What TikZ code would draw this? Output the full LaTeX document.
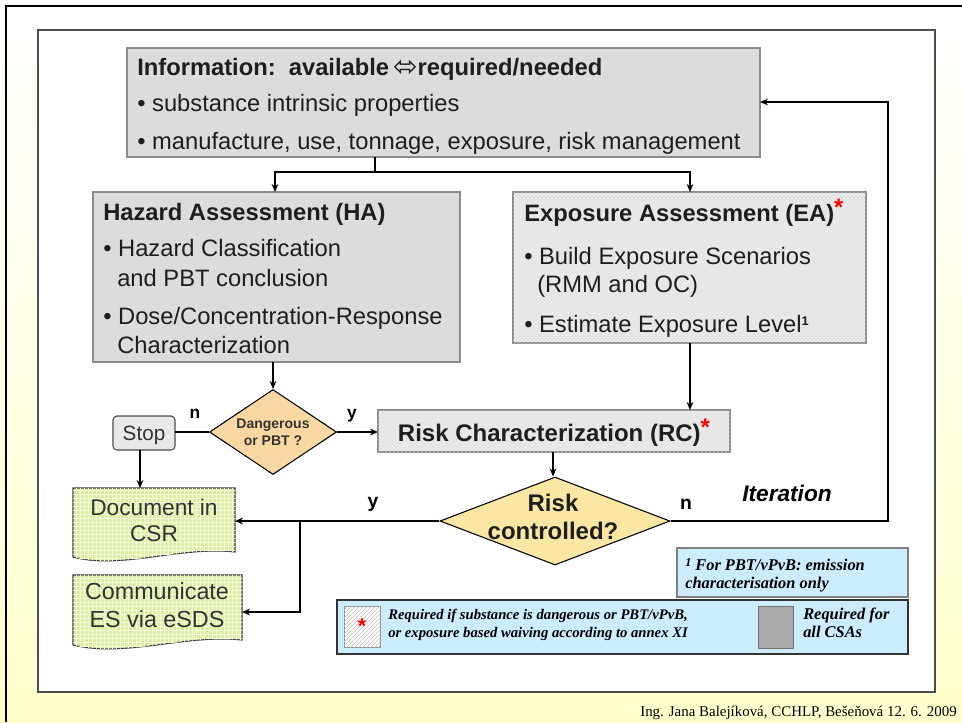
\documentclass[tikz,border=0pt]{standalone}
\usepackage{fontspec}
\setmainfont{Liberation Sans}
\newfontfamily\seriffont{Liberation Serif}
\newfontfamily\dejavu{DejaVu Sans}
\usetikzlibrary{shapes.geometric,arrows.meta,patterns}
\definecolor{bggray}{HTML}{DCDCDC}
\definecolor{dotgray}{HTML}{E4E4E4}
\definecolor{edgegray}{HTML}{8C8C8C}
\definecolor{docgreen}{HTML}{DCEFA0}
\definecolor{dangfill}{HTML}{FAD8A4}
\definecolor{riskfill}{HTML}{FBE7A3}
\definecolor{notefill}{HTML}{CCECFF}
\definecolor{bgyellow}{HTML}{FFFFCC}
\definecolor{txtdark}{HTML}{1E1E1E}
\definecolor{txtgray}{HTML}{333333}
\begin{document}
\begin{tikzpicture}[x=0.75pt,y=-0.75pt,
  box/.style={anchor=north west,inner sep=0pt,outer sep=0pt},
  graybox/.style={box,fill=bggray,draw=edgegray,line width=0.8pt},
  dotbox/.style={box,fill=dotgray,draw=edgegray,line width=0.8pt,
     postaction={pattern=crosshatch dots,pattern color=white}},
  txt/.style={anchor=base west,inner sep=0pt,text=txtdark,font=\fontsize{17.8}{19}\selectfont},
  ttl/.style={txt,font=\fontsize{17.8}{19}\selectfont\bfseries},
  ctxt/.style={anchor=base,inner sep=0pt},
  flow/.style={line width=1.1pt,-{Stealth[length=6pt,width=5pt]}},
  thick flow/.style={line width=1.6pt,-{Stealth[length=6pt,width=5pt]}},
  lab/.style={anchor=base,inner sep=0pt,font=\fontsize{13}{15}\selectfont\bfseries},
  note/.style={anchor=base west,inner sep=0pt,text=black,font=\fontsize{11}{13}\selectfont\seriffont\bfseries\itshape}
]
\useasboundingbox (0,0) rectangle (962,722);
% background
\fill[top color=white, bottom color=bgyellow, middle color=white!50!bgyellow] (0,0) rectangle (962,722);
\draw[line width=2.2pt] (6,722) -- (6,6) -- (962,6);
\draw[fill=white,draw=black!70,line width=1.2pt] (38,30) rectangle (935,692);

% Information box
\node[graybox,minimum width={633*0.75pt},minimum height={109*0.75pt}] (info) at (127,48) {};
\node[ttl] (infoT) at (137,75) {Information:\ \ available\,{\dejavu\mdseries\fontsize{22}{22}\selectfont\raisebox{-1pt}{⬄}}required/needed};
\node[txt] (infoB1) at (137,111) {• substance intrinsic properties};
\node[txt] (infoB2) at (137,149) {• manufacture, use, tonnage, exposure, risk management};

% Hazard assessment
\node[graybox,minimum width={367*0.75pt},minimum height={170*0.75pt}] (ha) at (93,192) {};
\node[ttl] (haT) at (103,220) {Hazard Assessment (HA)};
\node[txt] (haB1) at (103,256) {• Hazard Classification};
\node[txt] (haB1b) at (117,286) {and PBT conclusion};
\node[txt] (haB2) at (103,324) {• Dose/Concentration-Response};
\node[txt] (haB2b) at (117,353) {Characterization};

% Exposure assessment
\node[dotbox,minimum width={353*0.75pt},minimum height={151*0.75pt}] (ea) at (513,192) {};
\node[ttl] (eaT) at (524,221) {Exposure Assessment (EA)\textcolor{red}{\raisebox{4pt}{*}}};
\node[txt] (eaB1) at (524,264) {• Build Exposure Scenarios};
\node[txt] (eaB1b) at (537,292) {(RMM and OC)};
\node[txt] (eaB2) at (524,332) {• Estimate Exposure Level\raisebox{5pt}{\fontsize{9.5}{9}\selectfont\bfseries 1}};

% Risk characterization
\node[dotbox,minimum width={352*0.75pt},minimum height={42*0.75pt}] (rc) at (378,410) {};
\node[ctxt,text=txtdark,font=\fontsize{18}{19}\selectfont\bfseries] (rcT) at (554,441) {Risk Characterization (RC)\textcolor{red}{\raisebox{4pt}{*}}};

% Dangerous diamond
\node[diamond,aspect=1.5,draw=black,fill=dangfill,line width=0.8pt,inner sep=0pt,
  minimum width={127*0.75pt},minimum height={85*0.75pt}] (dang) at (273,432) {};
\node[ctxt,text=txtgray,font=\fontsize{10.5}{11}\selectfont\bfseries] (dangT1) at (273,428) {Dangerous};
\node[ctxt,text=txtgray,font=\fontsize{10.5}{11}\selectfont\bfseries] (dangT2) at (273,445) {or PBT ?};

% Stop
\node[box,fill=black!9,draw=black!70,line width=0.8pt,rounded corners=3pt,
  minimum width={62*0.75pt},minimum height={34*0.75pt}] (stop) at (113,416) {};
\node[ctxt,text=txtgray,font=\fontsize{15.5}{17}\selectfont] (stopT) at (144,440) {Stop};

% Risk controlled diamond
\node[diamond,aspect=2.6,draw=black,fill=riskfill,line width=0.8pt,inner sep=0pt,
  minimum width={230*0.75pt},minimum height={88*0.75pt}] (risk) at (555,521) {};
\node[ctxt,text=txtdark,font=\fontsize{18}{19}\selectfont\bfseries] (riskT1) at (553,511) {Risk};
\node[ctxt,text=txtdark,font=\fontsize{18}{19}\selectfont\bfseries] (riskT2) at (553,539) {controlled?};

% Document shapes
\node[box,minimum width={162*0.75pt},minimum height={69*0.75pt}] (doc1) at (73,488) {};
\path[fill=docgreen,draw=black!75,line width=0.8pt,postaction={pattern=grid,pattern color=white!70!docgreen}]
  (73,488) -- (235,488) -- (235,552) .. controls (180,546) and (120,570) .. (73,557) -- cycle;
\node[ctxt,text=txtgray,font=\fontsize{17}{18}\selectfont] (doc1T1) at (154,515) {Document in};
\node[ctxt,text=txtgray,font=\fontsize{17}{18}\selectfont] (doc1T2) at (154,541) {CSR};

\node[box,minimum width={169*0.75pt},minimum height={72*0.75pt}] (doc2) at (73,575) {};
\path[fill=docgreen,draw=black!75,line width=0.8pt,postaction={pattern=grid,pattern color=white!70!docgreen}]
  (73,575) -- (242,575) -- (242,640) .. controls (185,634) and (125,658) .. (73,645) -- cycle;
\node[ctxt,text=txtgray,font=\fontsize{17.5}{18}\selectfont] (doc2T1) at (157,599) {Communicate};
\node[ctxt,text=txtgray,font=\fontsize{17.5}{18}\selectfont] (doc2T2) at (157,627) {ES via eSDS};

% footnote box
\node[box,fill=notefill,draw=black!50,line width=0.8pt,minimum width={231*0.75pt},minimum height={49*0.75pt}] (foot) at (677,548) {};
\node[note,font=\fontsize{12.3}{13}\selectfont\seriffont\bfseries\itshape] (footT1) at (685,570) {\raisebox{3pt}{\fontsize{9}{9}\selectfont 1} For PBT/vPvB: emission};
\node[note,font=\fontsize{12.3}{13}\selectfont\seriffont\bfseries\itshape] (footT2) at (685,588) {characterisation only};

% legend box
\node[box,fill=notefill,draw=black!80,line width=1pt,minimum width={571*0.75pt},minimum height={54*0.75pt}] (leg) at (337,600) {};
\node[box,fill=white,draw=black!45,line width=0.6pt,minimum width={36*0.75pt},minimum height={41*0.75pt},
  postaction={pattern=north east lines,pattern color=black!25}] (hatch) at (344,606) {};
\node[anchor=center,inner sep=0pt,text=red,font=\fontsize{16}{16}\selectfont\bfseries] (hatchS) at (362,626) {*};
\node[note] (legT1) at (388,619) {Required if substance is dangerous or PBT/vPvB,};
\node[note] (legT2) at (388,637) {or exposure based waiving according to annex XI};
\node[box,fill=black!33,draw=black!55,line width=0.6pt,minimum width={35*0.75pt},minimum height={42*0.75pt}] (grsq) at (758,606) {};
\node[note,font=\fontsize{12.3}{13}\selectfont\seriffont\bfseries\itshape] (legT3) at (803,619) {Required for};
\node[note,font=\fontsize{12.3}{13}\selectfont\seriffont\bfseries\itshape] (legT4) at (803,637) {all CSAs};

% connectors
\coordinate (split) at (375,172);
\draw[line width=1.1pt] (info.south -| split) -- (split);
\draw[flow] (split) -| (ha.north -| 275,0);
\draw[flow] (split) -| (ea.north -| 690,0);
\draw[flow] (ha.south -| 273,0) -- (dang.north);
\draw[thick flow] (ea.south -| 690,0) -- (rc.north -| 690,0);
\draw[line width=1.1pt] (dang.west) -- (stop.east |- dang.west);
\draw[flow] (dang.east) -- (rc.west |- dang.east);
\draw[flow] (stop.south -| 140,0) -- (doc1.north -| 140,0);
\draw[flow] (rc.south -| 553,0) -- (risk.north -| 553,0);
\coordinate (branch) at (300,521);
\coordinate (loopA) at (888,521);
\coordinate (loopB) at (888,102);
\draw[thick flow] (risk.west) -- (doc1.east |- risk.west);
\draw[thick flow] (branch) |- (doc2.east |- 0,612);
\draw[thick flow] (risk.east) -- (loopA) -- (loopB) -- (info.east |- loopB);

% labels
\node[lab] (labn1) at (195,418) {n};
\node[lab] (laby1) at (352,418) {y};
\node[lab,font=\fontsize{14.5}{15}\selectfont\bfseries] (laby2) at (373,507) {y};
\node[lab,font=\fontsize{14.5}{15}\selectfont\bfseries] (labn2) at (686,509) {n};
\node[lab,font=\fontsize{17}{18}\selectfont\bfseries\itshape] (iter) at (787,501) {Iteration};

% footer
\node[anchor=base east,inner sep=0pt,font=\fontsize{11.2}{12}\selectfont\seriffont] (footer) at (957,716) {Ing. Jana Balejíková, CCHLP, Bešeňová 12. 6. 2009};
\end{tikzpicture}
\end{document}
